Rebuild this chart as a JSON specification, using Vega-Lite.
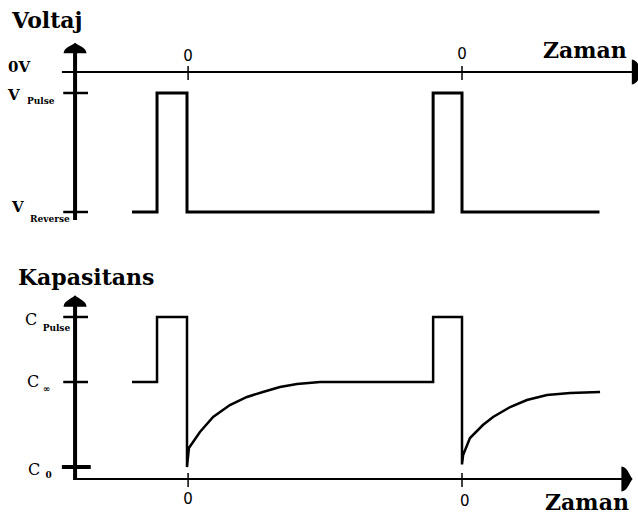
{
  "$schema": "https://vega.github.io/schema/vega-lite/v6.json",
  "width": 638,
  "height": 517,
  "autosize": {"type": "fit", "contains": "padding"},
  "padding": 0,
  "background": "white",
  "config": {"view": {"stroke": null}},
  "datasets": {
    "volt": [
      {"i": 0, "t": -2, "v": -10},
      {"i": 1, "t": -1.09, "v": -10},
      {"i": 2, "t": -1.09, "v": -1.5},
      {"i": 3, "t": 0, "v": -1.5},
      {"i": 4, "t": 0, "v": -10},
      {"i": 5, "t": 8.95, "v": -10},
      {"i": 6, "t": 8.95, "v": -1.5},
      {"i": 7, "t": 10, "v": -1.5},
      {"i": 8, "t": 10, "v": -10},
      {"i": 9, "t": 15, "v": -10}
    ],
    "cap": [
      {"i": 0, "t": -2, "c": 1},
      {"i": 1, "t": -1.09, "c": 1},
      {"i": 2, "t": -1.09, "c": 1.765},
      {"i": 3, "t": 0, "c": 1.765},
      {"i": 4, "t": 0, "c": 0},
      {"i": 5, "t": 0.07, "c": 0.224},
      {"i": 6, "t": 0.47, "c": 0.412},
      {"i": 7, "t": 0.95, "c": 0.588},
      {"i": 8, "t": 1.56, "c": 0.729},
      {"i": 9, "t": 2.18, "c": 0.824},
      {"i": 10, "t": 2.76, "c": 0.882},
      {"i": 11, "t": 3.38, "c": 0.941},
      {"i": 12, "t": 4.0, "c": 0.976},
      {"i": 13, "t": 4.84, "c": 1.0},
      {"i": 14, "t": 8.95, "c": 1.0},
      {"i": 15, "t": 8.95, "c": 1.765},
      {"i": 16, "t": 10, "c": 1.765},
      {"i": 17, "t": 10, "c": 0.03},
      {"i": 18, "t": 10.04, "c": 0.141},
      {"i": 19, "t": 10.29, "c": 0.341},
      {"i": 20, "t": 10.76, "c": 0.494},
      {"i": 21, "t": 11.13, "c": 0.588},
      {"i": 22, "t": 11.75, "c": 0.706},
      {"i": 23, "t": 12.36, "c": 0.788},
      {"i": 24, "t": 13.09, "c": 0.847},
      {"i": 25, "t": 13.93, "c": 0.871},
      {"i": 26, "t": 15.02, "c": 0.882}
    ]
  },
  "layer": [
    {
      "layer": [
        {
          "data": {"values": [{"t": -4.55, "t2": 16.2, "v": 0}]},
          "mark": {"type": "rule", "strokeWidth": 2, "color": "black"},
          "encoding": {
            "x": {"field": "t", "type": "quantitative", "scale": {"domain": [-6.8, 16.4], "nice": false, "zero": false}, "axis": null},
            "x2": {"field": "t2"},
            "y": {"field": "v", "type": "quantitative", "scale": {"domain": [-31.786, 5.143], "nice": false, "zero": false}, "axis": null}
          }
        },
        {
          "data": {"values": [{"t": -4.07, "v": 1.57, "v2": -10.57}]},
          "mark": {"type": "rule", "strokeWidth": 4, "color": "black"},
          "encoding": {
            "x": {"field": "t", "type": "quantitative"},
            "y": {"field": "v", "type": "quantitative"},
            "y2": {"field": "v2"}
          }
        },
        {
          "data": {"values": [{"t": -4.5, "t2": -3.6, "v": -1.5}, {"t": -4.5, "t2": -3.6, "v": -10}]},
          "mark": {"type": "rule", "strokeWidth": 2.5, "color": "black"},
          "encoding": {
            "x": {"field": "t", "type": "quantitative"},
            "x2": {"field": "t2"},
            "y": {"field": "v", "type": "quantitative"}
          }
        },
        {
          "data": {"values": [{"t": 0.04, "v": 0.43, "v2": -0.57}, {"t": 10, "v": 0.43, "v2": -0.57}]},
          "mark": {"type": "rule", "strokeWidth": 1.5, "color": "black"},
          "encoding": {
            "x": {"field": "t", "type": "quantitative"},
            "y": {"field": "v", "type": "quantitative"},
            "y2": {"field": "v2"}
          }
        },
        {
          "data": {"name": "volt"},
          "mark": {"type": "line", "strokeWidth": 3, "color": "black", "strokeJoin": "miter", "strokeCap": "butt"},
          "encoding": {
            "x": {"field": "t", "type": "quantitative"},
            "y": {"field": "v", "type": "quantitative"},
            "order": {"field": "i"}
          }
        },
        {
          "data": {"values": [{"t": -4.07, "v": 1.714}]},
          "mark": {"type": "point", "filled": true, "color": "black", "opacity": 1, "size": 529, "shape": "M -1 0.45 C -0.95 -0.05 -0.35 -0.15 0 -0.45 C 0.35 -0.15 0.95 -0.05 1 0.45 Z"},
          "encoding": {
            "x": {"field": "t", "type": "quantitative"},
            "y": {"field": "v", "type": "quantitative"}
          }
        },
        {
          "data": {"values": [{"t": 16.38, "v": 0}]},
          "mark": {"type": "point", "filled": true, "clip": true, "color": "black", "opacity": 1, "size": 625, "shape": "M -0.45 -1 C 0.05 -0.95 0.15 -0.35 0.45 0 C 0.15 0.35 0.05 0.95 -0.45 1 Z"},
          "encoding": {
            "x": {"field": "t", "type": "quantitative"},
            "y": {"field": "v", "type": "quantitative"}
          }
        },
        {
          "data": {"values": [{"t": -6.36, "v": 3.143, "label": "Voltaj"}, {"t": 12.945, "v": 1.0, "label": "Zaman"}]},
          "mark": {"type": "text", "font": "DejaVu Serif", "fontWeight": "bold", "fontSize": 22, "align": "left", "baseline": "alphabetic", "color": "black"},
          "encoding": {
            "x": {"field": "t", "type": "quantitative"},
            "y": {"field": "v", "type": "quantitative"},
            "text": {"field": "label"}
          }
        },
        {
          "data": {"values": [{"t": 0.04, "v": 1.143, "label": "0"}, {"t": 10, "v": 1.286, "label": "0"}]},
          "mark": {"type": "text", "font": "DejaVu Sans", "fontSize": 15, "align": "center", "baseline": "middle", "color": "black"},
          "encoding": {
            "x": {"field": "t", "type": "quantitative"},
            "y": {"field": "v", "type": "quantitative"},
            "text": {"field": "label"}
          }
        },
        {
          "data": {"values": [{"t": -6.51, "v": 0, "label": "0V"}, {"t": -6.51, "v": -2.0, "label": "V"}, {"t": -6.36, "v": -10, "label": "V"}]},
          "mark": {"type": "text", "font": "DejaVu Serif", "fontWeight": "bold", "fontSize": 15, "align": "left", "baseline": "alphabetic", "color": "black"},
          "encoding": {
            "x": {"field": "t", "type": "quantitative"},
            "y": {"field": "v", "type": "quantitative"},
            "text": {"field": "label"}
          }
        },
        {
          "data": {"values": [{"t": -5.82, "v": -2.29, "label": "Pulse"}, {"t": -5.71, "v": -10.71, "label": "Reverse"}]},
          "mark": {"type": "text", "font": "DejaVu Serif", "fontWeight": "bold", "fontSize": 9, "align": "left", "baseline": "alphabetic", "color": "black"},
          "encoding": {
            "x": {"field": "t", "type": "quantitative"},
            "y": {"field": "v", "type": "quantitative"},
            "text": {"field": "label"}
          }
        }
      ]
    },
    {
      "layer": [
        {
          "data": {"values": [{"t": -4.07, "t2": 15.9, "c": -0.141}]},
          "mark": {"type": "rule", "strokeWidth": 2, "color": "black"},
          "encoding": {
            "x": {"field": "t", "type": "quantitative", "scale": {"domain": [-6.8, 16.4], "nice": false, "zero": false}, "axis": null},
            "x2": {"field": "t2"},
            "y": {"field": "c", "type": "quantitative", "scale": {"domain": [-0.588, 5.494], "nice": false, "zero": false}, "axis": null}
          }
        },
        {
          "data": {"values": [{"t": -4.07, "c": 1.906, "c2": -0.153}]},
          "mark": {"type": "rule", "strokeWidth": 4, "color": "black"},
          "encoding": {
            "x": {"field": "t", "type": "quantitative"},
            "y": {"field": "c", "type": "quantitative"},
            "y2": {"field": "c2"}
          }
        },
        {
          "data": {"values": [{"t": -4.5, "t2": -3.6, "c": 1.765}, {"t": -4.5, "t2": -3.6, "c": 1.0}]},
          "mark": {"type": "rule", "strokeWidth": 2.5, "color": "black"},
          "encoding": {
            "x": {"field": "t", "type": "quantitative"},
            "x2": {"field": "t2"},
            "y": {"field": "c", "type": "quantitative"}
          }
        },
        {
          "data": {"values": [{"t": -4.55, "t2": -3.5, "c": 0}]},
          "mark": {"type": "rule", "strokeWidth": 4, "color": "black"},
          "encoding": {
            "x": {"field": "t", "type": "quantitative"},
            "x2": {"field": "t2"},
            "y": {"field": "c", "type": "quantitative"}
          }
        },
        {
          "data": {"values": [{"t": 0.04, "c": -0.071, "c2": -0.235}, {"t": 10, "c": -0.071, "c2": -0.235}]},
          "mark": {"type": "rule", "strokeWidth": 1.5, "color": "black"},
          "encoding": {
            "x": {"field": "t", "type": "quantitative"},
            "y": {"field": "c", "type": "quantitative"},
            "y2": {"field": "c2"}
          }
        },
        {
          "data": {"name": "cap"},
          "mark": {"type": "line", "strokeWidth": 2.5, "color": "black", "strokeJoin": "miter", "strokeCap": "butt"},
          "encoding": {
            "x": {"field": "t", "type": "quantitative"},
            "y": {"field": "c", "type": "quantitative"},
            "order": {"field": "i"}
          }
        },
        {
          "data": {"values": [{"t": -4.07, "c": 1.953}]},
          "mark": {"type": "point", "filled": true, "color": "black", "opacity": 1, "size": 529, "shape": "M -1 0.5 C -0.95 -0.05 -0.35 -0.15 0 -0.5 C 0.35 -0.15 0.95 -0.05 1 0.5 Z"},
          "encoding": {
            "x": {"field": "t", "type": "quantitative"},
            "y": {"field": "c", "type": "quantitative"}
          }
        },
        {
          "data": {"values": [{"t": 16.0, "c": -0.141}]},
          "mark": {"type": "point", "filled": true, "clip": true, "color": "black", "opacity": 1, "size": 625, "shape": "M -0.45 -1 C 0.05 -0.95 0.15 -0.35 0.45 0 C 0.15 0.35 0.05 0.95 -0.45 1 Z"},
          "encoding": {
            "x": {"field": "t", "type": "quantitative"},
            "y": {"field": "c", "type": "quantitative"}
          }
        },
        {
          "data": {"values": [{"t": -6.15, "c": 2.141, "label": "Kapasitans"}, {"t": 13.02, "c": -0.506, "label": "Zaman"}]},
          "mark": {"type": "text", "font": "DejaVu Serif", "fontWeight": "bold", "fontSize": 22, "align": "left", "baseline": "alphabetic", "color": "black"},
          "encoding": {
            "x": {"field": "t", "type": "quantitative"},
            "y": {"field": "c", "type": "quantitative"},
            "text": {"field": "label"}
          }
        },
        {
          "data": {"values": [{"t": 0.04, "c": -0.376, "label": "0"}, {"t": 10.1, "c": -0.4, "label": "0"}]},
          "mark": {"type": "text", "font": "DejaVu Sans", "fontSize": 15, "align": "center", "baseline": "middle", "color": "black"},
          "encoding": {
            "x": {"field": "t", "type": "quantitative"},
            "y": {"field": "c", "type": "quantitative"},
            "text": {"field": "label"}
          }
        },
        {
          "data": {"values": [{"t": -5.89, "c": 1.671, "label": "C"}, {"t": -5.82, "c": 0.941, "label": "C"}, {"t": -5.78, "c": -0.094, "label": "C"}]},
          "mark": {"type": "text", "font": "DejaVu Serif", "fontSize": 16, "align": "left", "baseline": "alphabetic", "color": "black"},
          "encoding": {
            "x": {"field": "t", "type": "quantitative"},
            "y": {"field": "c", "type": "quantitative"},
            "text": {"field": "label"}
          }
        },
        {
          "data": {"values": [{"t": -5.25, "c": 1.6, "label": "Pulse"}, {"t": -5.25, "c": 0.882, "label": "∞"}, {"t": -5.15, "c": -0.129, "label": "0"}]},
          "mark": {"type": "text", "font": "DejaVu Serif", "fontWeight": "bold", "fontSize": 9, "align": "left", "baseline": "alphabetic", "color": "black"},
          "encoding": {
            "x": {"field": "t", "type": "quantitative"},
            "y": {"field": "c", "type": "quantitative"},
            "text": {"field": "label"}
          }
        }
      ]
    }
  ],
  "resolve": {"scale": {"y": "independent"}}
}
